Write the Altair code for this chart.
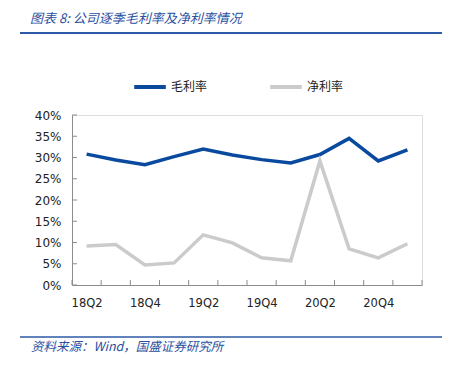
import altair as alt
import pandas as pd

quarters = ["18Q2", "18Q3", "18Q4", "19Q1", "19Q2", "19Q3", "19Q4", "20Q1",
            "20Q2", "20Q3", "20Q4", "21Q1"]
gross_margin = [30.8, 29.4, 28.3, 30.2, 32.0, 30.6, 29.5, 28.7, 30.7, 34.5, 29.2, 31.8]
net_margin = [9.2, 9.5, 4.7, 5.2, 11.8, 9.9, 6.4, 5.7, 29.2, 8.5, 6.4, 9.7]
series_names = ["毛利率", "净利率"]
series_colors = ["#0a4a9e", "#cbcbcb"]
y_ticks = [0, 5, 10, 15, 20, 25, 30, 35, 40]
title_text = "图表 8:  公司逐季毛利率及净利率情况"
source_text = "资料来源：Wind，国盛证券研究所"

rows = []
for i, q in enumerate(quarters):
    rows.append({"idx": i, "q": q, "series": series_names[0], "v": gross_margin[i] / 100})
    rows.append({"idx": i, "q": q, "series": series_names[1], "v": net_margin[i] / 100})
df = pd.DataFrame(rows)

W, H = 350, 170
label_expr = "[" + ",".join("'%s'" % q for q in quarters) + "][datum.value]"

xscale = alt.Scale(domain=[-0.5, len(quarters) - 0.5], nice=False, zero=False)
yscale = alt.Scale(domain=[0, 0.4], nice=False)

xaxis = alt.Axis(values=list(range(0, len(quarters), 2)), labelExpr=label_expr,
                 title=None, grid=False, ticks=False, tickSize=0,
                 domainColor="#8c8c8c", labelPadding=12, labelOverlap=False,
                 labelFont="DejaVu Sans", labelFontSize=11.5, labelColor="#222222")
yaxis = alt.Axis(values=[t / 100 for t in y_ticks], format=".0%", title=None,
                 grid=False, ticks=False, tickSize=0, domainColor="#8c8c8c",
                 labelPadding=11, labelOverlap=False, labelFlush=False,
                 labelFont="DejaVu Sans", labelFontSize=12, labelColor="#222222")

lines = alt.Chart(df).mark_line(strokeWidth=3.5, strokeCap="butt", strokeJoin="miter").encode(
    x=alt.X("idx:Q", scale=xscale, axis=xaxis),
    y=alt.Y("v:Q", scale=yscale, axis=yaxis),
    color=alt.Color("series:N",
                    scale=alt.Scale(domain=series_names, range=series_colors),
                    legend=alt.Legend(title=None, orient="none", legendX=60, legendY=-46,
                                      direction="horizontal", symbolType="stroke",
                                      symbolSize=1000, symbolStrokeWidth=4,
                                      labelFont="Noto Sans CJK SC", labelFontSize=12,
                                      labelColor="#222222", columnPadding=54,
                                      labelOffset=3)),
    order="idx:Q",
)

# inward ticks
xt = pd.DataFrame({"t": [i - 0.5 for i in range(len(quarters) + 1)]})
xticks = alt.Chart(xt).mark_rule(color="#8c8c8c", strokeWidth=1).encode(
    x=alt.X("t:Q", scale=xscale, axis=xaxis), y=alt.value(H - 5), y2=alt.value(H))
yt = pd.DataFrame({"t": [t / 100 for t in y_ticks]})
yticks = alt.Chart(yt).mark_rule(color="#8c8c8c", strokeWidth=1).encode(
    y=alt.Y("t:Q", scale=yscale, axis=yaxis), x=alt.value(0), x2=alt.value(5))

one = pd.DataFrame({"a": [0]})
title = alt.Chart(one).mark_text(align="left", baseline="middle", font="Noto Sans CJK SC",
                                 fontSize=13, fontStyle="italic", color="#2a4f9f").encode(
    x=alt.value(-42), y=alt.value(-96), text=alt.value(title_text))
top_line = alt.Chart(one).mark_rule(color="#2d5aa6", strokeWidth=2).encode(
    x=alt.value(-52), x2=alt.value(370), y=alt.value(-82))
bottom_line = alt.Chart(one).mark_rule(color="#2d5aa6", strokeWidth=1.5).encode(
    x=alt.value(-52), x2=alt.value(370), y=alt.value(222))
source = alt.Chart(one).mark_text(align="left", baseline="middle", font="Noto Sans CJK SC",
                                  fontSize=12.5, fontStyle="italic", color="#2a4f9f").encode(
    x=alt.value(-41), y=alt.value(232), text=alt.value(source_text))

chart = alt.layer(lines, xticks, yticks, title, top_line, bottom_line, source).properties(
    width=W, height=H,
    autosize=alt.AutoSizeParams(type="none"),
    padding={"left": 64, "top": 107, "right": 27, "bottom": 70},
).configure_view(stroke=None).configure(background="white")

chart.save("out.html", embed_options={"renderer": "svg", "actions": False})
